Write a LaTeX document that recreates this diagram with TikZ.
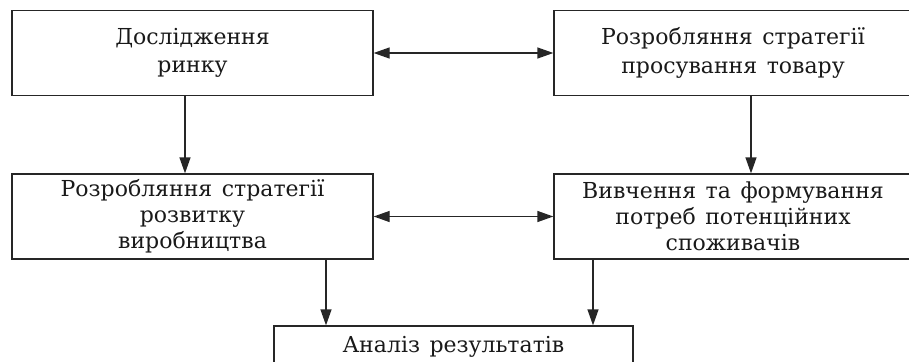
\documentclass[tikz,border=0pt]{standalone}
\usepackage{fontspec}
\setmainfont{DejaVu Serif}
\usetikzlibrary{arrows.meta}
\newcommand{\boxfont}{\fontsize{22}{28.5}\selectfont\spaceskip=9.5pt plus 2pt minus 1pt\relax}
\begin{document}
\begin{tikzpicture}[x=1pt,y=-1pt,
  box/.style={draw=black!85, line width=1.3pt, minimum height=85pt, align=center, inner sep=0pt,
    font=\boxfont, text=black!90},
  tip/.tip={Triangle[length=16pt,width=11pt]},
  arr/.style={line width=1.3pt, draw=black!85, -tip},
  darr/.style={line width=1.3pt, draw=black!85, tip-tip}
]
\useasboundingbox (0,0) rectangle (909,361);
\clip (0,0) rectangle (909,361);
\node[box, minimum width=361pt] (b1) at (192.5,53) {Дослідження\\ринку};
\node[box, minimum width=358pt] (b2) at (733,53) {Розробляння стратегії\\просування товару};
\node[box, minimum width=361pt, font=\boxfont\linespread{0.91}\selectfont] (b3) at (192.5,216.5) {Розробляння стратегії\\розвитку\\виробництва};
\node[box, minimum width=358pt, font=\boxfont\linespread{0.91}\selectfont] (b4) at (733,216.5) {Вивчення та формування\\потреб потенційних\\споживачів};
\node[box, minimum width=359pt, minimum height=42pt] (b5) at (453.5,347) {Аналіз результатів};
\draw[darr] (b1.east) -- (b2.west);
\draw[darr] (b3.east) -- (b4.west);
\coordinate (a1) at ([xshift=-7.5pt]b1.south);
\coordinate (a2) at ([xshift=18pt]b2.south);
\coordinate (a3) at ([xshift=133.5pt]b3.south);
\coordinate (a4) at ([xshift=-140pt]b4.south);
\draw[arr] (a1) -- (a1 |- b3.north);
\draw[arr] (a2) -- (a2 |- b4.north);
\draw[arr] (a3) -- (a3 |- b5.north);
\draw[arr] (a4) -- (a4 |- b5.north);
\end{tikzpicture}
\end{document}
